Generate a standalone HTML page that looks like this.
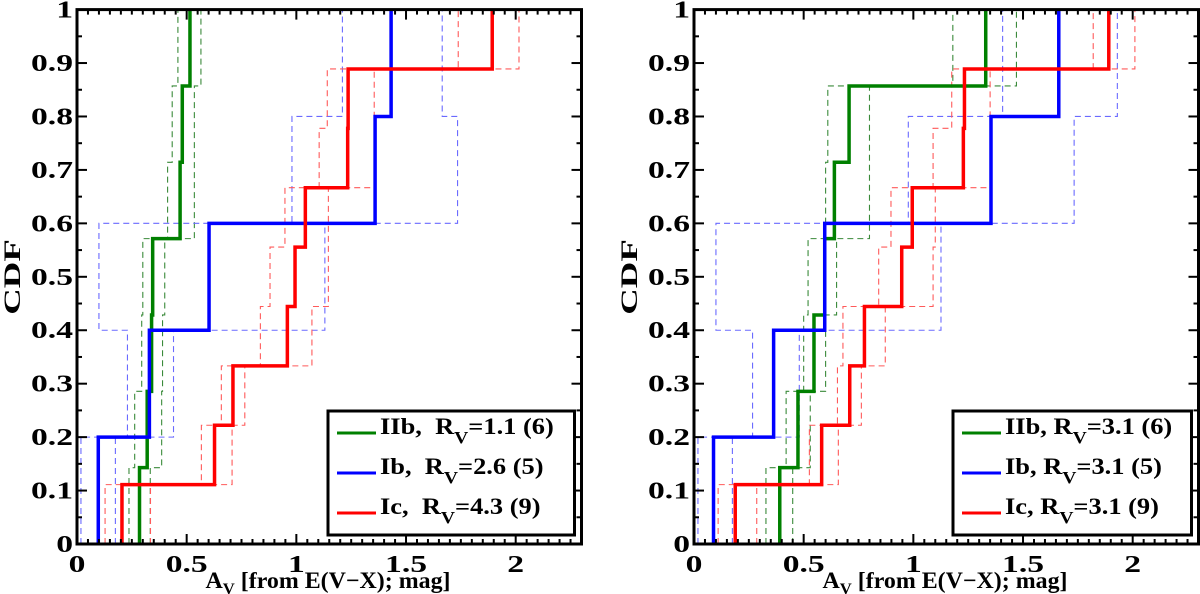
<!DOCTYPE html>
<html><head><meta charset="utf-8"><style>
html,body{margin:0;padding:0;background:#fff;}
svg{display:block;font-family:"Liberation Serif",serif;font-weight:bold;}
</style></head><body>
<svg id="chart" width="1200" height="594" viewBox="0 0 1200 594" xmlns="http://www.w3.org/2000/svg"></svg>
<script>
// Left panel data (x value where CDF reaches each level)
const leftGreen = [0.285, 0.32, 0.34, 0.345, 0.47, 0.48, 0.515];
const leftGreenLo = [0.237, 0.263, 0.295, 0.30, 0.413, 0.434, 0.46];
const leftGreenHi = [0.334, 0.386, 0.39, 0.40, 0.535, 0.535, 0.565];
const leftBlue = [0.097, 0.33, 0.602, 1.359, 1.432];
const leftBlueLo = [0.018, 0.23, 0.10, 0.98, 1.21];
const leftBlueHi = [0.175, 0.44, 1.13, 1.735, 1.665];
const leftRed = [0.205, 0.627, 0.711, 0.959, 0.994, 1.041, 1.234, 1.236, 1.893];
const leftRedLo = [0.128, 0.567, 0.658, 0.836, 0.88, 0.948, 1.104, 1.141, 1.738];
const leftRedHi = [0.335, 0.707, 0.765, 1.071, 1.146, 1.146, 1.355, 1.355, 2.015];
// Right panel data
const rightGreen = [0.391, 0.474, 0.547, 0.596, 0.64, 0.707, 1.33];
const rightGreenLo = [0.328, 0.42, 0.50, 0.52, 0.60, 0.61, 1.18];
const rightGreenHi = [0.45, 0.53, 0.60, 0.65, 0.80, 0.80, 1.47];
const rightBlue = [0.089, 0.363, 0.596, 1.354, 1.663];
const rightBlueLo = [0.018, 0.267, 0.10, 0.977, 1.407];
const rightBlueHi = [0.175, 0.48, 1.126, 1.733, 1.93];
const rightRed = [0.188, 0.582, 0.71, 0.777, 0.947, 0.995, 1.228, 1.233, 1.891];
const rightRedLo = [0.11, 0.526, 0.654, 0.679, 0.842, 0.898, 1.09, 1.175, 1.82];
const rightRedHi = [0.286, 0.658, 0.763, 0.872, 1.09, 1.10, 1.35, 1.35, 2.01];
const xTickLabels = ["0", "0.5", "1", "1.5", "2"];
const yTickLabels = ["0", "0.1", "0.2", "0.3", "0.4", "0.5", "0.6", "0.7", "0.8", "0.9", "1"];
const leftLegend = [["IIb,\u00a0 R", "=1.1 (6)"], ["Ib,\u00a0 R", "=2.6 (5)"], ["Ic,\u00a0 R", "=4.3 (9)"]];
const rightLegend = [["IIb, R", "=3.1 (6)"], ["Ib, R", "=3.1 (5)"], ["Ic, R", "=3.1 (9)"]];

const NS = "http://www.w3.org/2000/svg";
const svg = document.getElementById("chart");
function mk(tag, attrs, parent) {
  const e = document.createElementNS(NS, tag);
  for (const k in attrs) e.setAttribute(k, attrs[k]);
  (parent || svg).appendChild(e);
  return e;
}
const GREEN = "#008000", BLUE = "#0000ff", RED = "#ff0000";
const GREEN_D = "#3a8a3a", BLUE_D = "#6a6aff", RED_D = "#ff5a5a";

function panel(x0, name, series, legend, legX) {
  const x1 = x0 + 504.5, yB = 544, yT = 9.6;
  const sx = v => x0 + v / 2.3 * (x1 - x0);
  const sy = v => yB - v * (yB - yT);
  const g = mk("g", {});
  
  
  series.forEach(s => {
    const n = s.data.length;
    let d = "M" + sx(s.data[0]) + " " + sy(0);
    for (let i = 0; i < n; i++) {
      d += " L" + sx(s.data[i]) + " " + sy((i + 1) / n);
      if (i < n - 1) d += " L" + sx(s.data[i + 1]) + " " + sy((i + 1) / n);
    }
    const p = mk("path", {d: d, fill: "none", stroke: s.color, "stroke-width": s.dash ? 1.1 : 3.5, "stroke-dasharray": s.dash ? "6,4" : "none"}, g);
    
    
  });
  const tk = mk("g", {stroke: "#000", "stroke-width": 2}, g);
  
  
  for (let i = 0; i <= 46; i++) {
    const v = i * 0.05, x = sx(v), L = (i % 10 === 0) ? 10 : 5;
    mk("line", {x1: x, y1: yB, x2: x, y2: yB - L}, tk);
    mk("line", {x1: x, y1: yT, x2: x, y2: yT + L}, tk);
  }
  for (let i = 0; i <= 20; i++) {
    const y = sy(i * 0.05), L = (i % 2 === 0) ? 10 : 5;
    mk("line", {x1: x0, y1: y, x2: x0 + L, y2: y}, tk);
    mk("line", {x1: x1, y1: y, x2: x1 - L, y2: y}, tk);
  }
  const fr = mk("rect", {x: x0, y: yT, width: x1 - x0, height: yB - yT, fill: "none", stroke: "#000", "stroke-width": 3}, g);
  
  
  xTickLabels.forEach((t, i) => {
    const e = mk("text", {x: 0, y: 0, "text-anchor": "middle", "font-size": 24, transform: "translate(" + sx(i * 0.5) + ",572) scale(1.4,1)"}, g);
    e.textContent = t;
    
    
  });
  yTickLabels.forEach((t, i) => {
    const e = mk("text", {x: 0, y: 0, "text-anchor": "end", "font-size": 24, transform: "translate(" + (x0 - 4) + "," + (sy(i * 0.1) + 8) + ") scale(1.4,1)"}, g);
    e.textContent = t;
    
    
  });
  const xt = mk("text", {x: 0, y: 0, "text-anchor": "middle", "font-size": 23, transform: "translate(" + (x0 + 251) + ",588) scale(1.04,1)"}, g);
  xt.innerHTML = 'A<tspan font-size="16" dy="6">V</tspan><tspan dy="-6"> [from E(V−X); mag]</tspan>';
  
  
  const yt = mk("text", {x: 0, y: 0, "text-anchor": "middle", "font-size": 23, transform: "translate(" + (x0 - 57) + ",277) rotate(-90) scale(1.6,1)"}, g);
  yt.textContent = "CDF";
  
  
  const lg = mk("g", {}, g);
  
  
  mk("rect", {x: legX, y: 411, width: x1 - 7 - legX, height: 124, fill: "#fff", stroke: "#000", "stroke-width": 3}, lg);
  const cols = [GREEN, BLUE, RED];
  legend.forEach((l, i) => {
    const y = 433 + i * 40;
    const ln = mk("line", {x1: legX + 9, y1: y, x2: legX + 48, y2: y, stroke: cols[i], "stroke-width": 3}, lg);
    
    
    const t = mk("text", {x: 0, y: 0, "font-size": 23, transform: "translate(" + (legX + 52) + "," + (y + 1) + ") scale(1.15,1)"}, lg);
    t.innerHTML = l[0] + '<tspan font-size="17" dy="9">V</tspan><tspan dy="-9">' + l[1] + '</tspan>';
    
    
  });
}
panel(77, "left-panel", [
  {data: leftGreenLo, color: GREEN_D, dash: 1, name: "iib-lower-bound"},
  {data: leftGreenHi, color: GREEN_D, dash: 1, name: "iib-upper-bound"},
  {data: leftBlueLo, color: BLUE_D, dash: 1, name: "ib-lower-bound"},
  {data: leftBlueHi, color: BLUE_D, dash: 1, name: "ib-upper-bound"},
  {data: leftRedLo, color: RED_D, dash: 1, name: "ic-lower-bound"},
  {data: leftRedHi, color: RED_D, dash: 1, name: "ic-upper-bound"},
  {data: leftGreen, color: GREEN, name: "iib-cdf"},
  {data: leftBlue, color: BLUE, name: "ib-cdf"},
  {data: leftRed, color: RED, name: "ic-cdf"}
], leftLegend, 328);
panel(694, "right-panel", [
  {data: rightGreenLo, color: GREEN_D, dash: 1, name: "iib-lower-bound"},
  {data: rightGreenHi, color: GREEN_D, dash: 1, name: "iib-upper-bound"},
  {data: rightBlueLo, color: BLUE_D, dash: 1, name: "ib-lower-bound"},
  {data: rightBlueHi, color: BLUE_D, dash: 1, name: "ib-upper-bound"},
  {data: rightRedLo, color: RED_D, dash: 1, name: "ic-lower-bound"},
  {data: rightRedHi, color: RED_D, dash: 1, name: "ic-upper-bound"},
  {data: rightGreen, color: GREEN, name: "iib-cdf"},
  {data: rightBlue, color: BLUE, name: "ib-cdf"},
  {data: rightRed, color: RED, name: "ic-cdf"}
], rightLegend, 953);
</script>
</body></html>
